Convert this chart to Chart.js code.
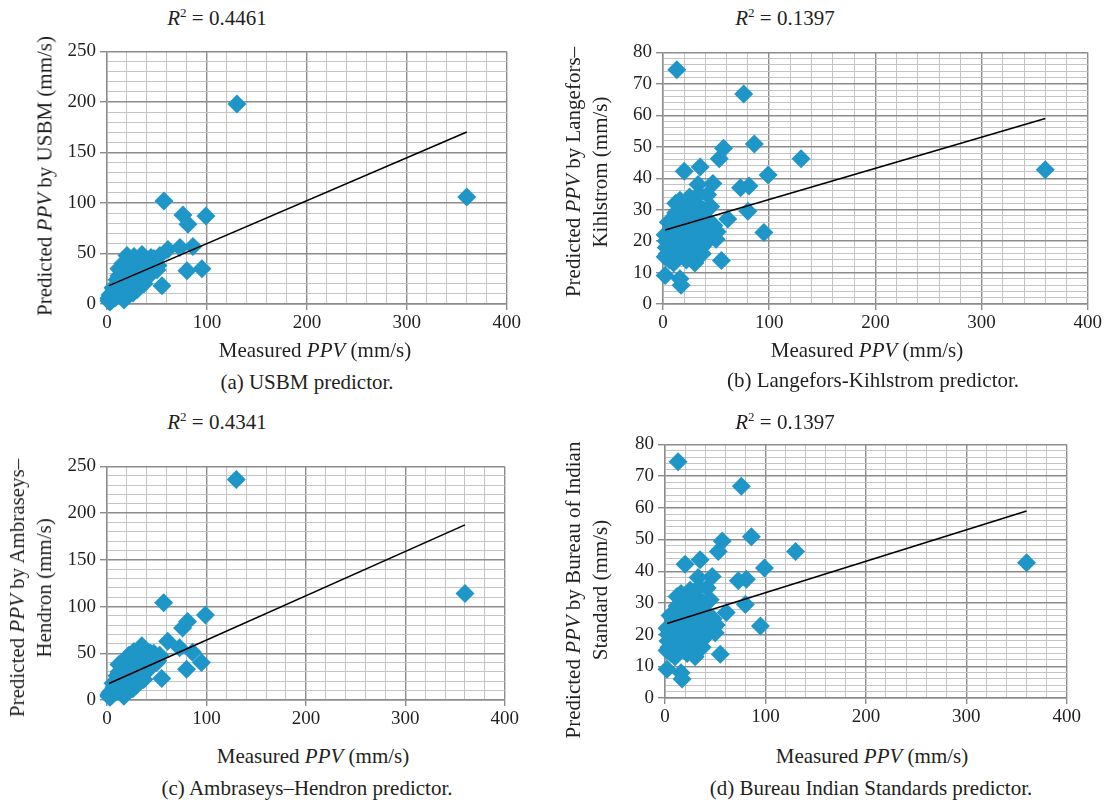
<!DOCTYPE html>
<html><head><meta charset="utf-8">
<script src="https://cdn.jsdelivr.net/npm/chart.js@4.4.1/dist/chart.umd.min.js"></script>
<style>
body{margin:0;background:#fff;width:1104px;height:802px;position:relative;overflow:hidden;font-family:'Liberation Serif','Times New Roman',serif;color:#231f20}
canvas{position:absolute}
.t{position:absolute;white-space:nowrap;font-size:21px;transform:translate(-50%,-50%);line-height:1}
.yt{position:absolute;white-space:nowrap;font-size:21px;text-align:center;line-height:27px;transform:translate(-50%,-50%) rotate(-90deg)}
sup{font-size:13px;vertical-align:0;position:relative;top:-8px}
</style></head><body>
<canvas id="ca"></canvas><canvas id="cb"></canvas><canvas id="cc"></canvas><canvas id="cd"></canvas>

<div class="t" style="left:217px;top:18px"><i>R</i><sup>2</sup> = 0.4461</div>
<div class="t" style="left:785px;top:18px"><i>R</i><sup>2</sup> = 0.1397</div>
<div class="t" style="left:217px;top:422px"><i>R</i><sup>2</sup> = 0.4341</div>
<div class="t" style="left:785px;top:422px"><i>R</i><sup>2</sup> = 0.1397</div>

<div class="t" style="left:315px;top:350px">Measured <i>PPV</i> (mm/s)</div>
<div class="t" style="left:867px;top:350px">Measured <i>PPV</i> (mm/s)</div>
<div class="t" style="left:313px;top:756px">Measured <i>PPV</i> (mm/s)</div>
<div class="t" style="left:872px;top:756px">Measured <i>PPV</i> (mm/s)</div>

<div class="t" style="left:307px;top:382px">(a) USBM predictor.</div>
<div class="t" style="left:873px;top:380px">(b) Langefors-Kihlstrom predictor.</div>
<div class="t" style="left:307px;top:788px">(c) Ambraseys–Hendron predictor.</div>
<div class="t" style="left:871px;top:788px">(d) Bureau Indian Standards predictor.</div>

<div class="yt" style="left:45px;top:176px">Predicted <i>PPV</i> by USBM (mm/s)</div>
<div class="yt" style="left:587px;top:172px">Predicted <i>PPV</i> by Langefors–<br>Kihlstrom (mm/s)</div>
<div class="yt" style="left:31px;top:588px">Predicted <i>PPV</i> by Ambraseys–<br>Hendron (mm/s)</div>
<div class="yt" style="left:587px;top:590px">Predicted <i>PPV</i> by Bureau of Indian<br>Standard (mm/s)</div>

<script>
// ---- data ----
const measuredPPV = [130,360,57,76,81,99,61,73,86,80,95,55,13,53,47,35,20,2,16,17,50,51,42,33,
  2,2,3,3,4,5,5,6,7,8,8,9,10,10,11,12,12,13,14,15,15,16,17,18,19,20,21,22,22,23,24,25,26,27,28,29,30,31,32,33,34,36,37,38,40,41,43,45,
  44,48,39,27,12,6];
const predUSBM = [198,106,102,88,79,87,54,56,57,33,35,18,36,48,45,49,48,5,8,4,34,38,30,42,
  6,3,9,2,7,11,4,8,14,6,12,18,9,24,15,28,11,20,33,14,25,40,19,30,12,38,22,45,17,33,26,41,11,36,22,44,14,30,38,25,46,32,20,40,35,43,29,38,
  46,40,26,47,35,16];
const predLK = [46.2,42.7,49.5,66.8,37.5,41,27,37,50.9,29.5,22.7,13.8,74.5,46.2,38.3,43.6,42.2,9.1,8,6,20.6,23,34.7,38,
  22,15,20,18,16,26,21,14,19,25,17,22,13,27,20,32,15,24,18,28,21,33,16,25,19,31,23,30,14,27,21,34,17,24,29,20,13,32,22,26,35,18,16,30,27,24,21,31,
  26,25,19,33,29,23];
const predAH = [236,114,104,77,84,91,63,56,51,33,40,23,38,48,50,58,45,5,10,4,40,42,35,48,
  6,4,8,3,7,10,5,9,14,8,12,19,10,26,16,30,12,22,38,15,28,40,22,33,13,42,25,48,18,36,30,44,12,38,26,48,16,35,42,30,52,36,22,46,40,47,34,44,
  50,45,30,52,38,18];
const predBIS = [46.2,42.7,49.5,66.8,37.5,41,27,37,50.9,29.5,22.7,13.8,74.5,46.2,38.3,43.6,42.2,9.1,8,6,20.6,23,34.7,38,
  22,15,20,18,16,26,21,14,19,25,17,22,13,27,20,32,15,24,18,28,21,33,16,25,19,31,23,30,14,27,21,34,17,24,29,20,13,32,22,26,35,18,16,30,27,24,21,31,
  26,25,19,33,29,23];
const trendX = [2, 360];
const trendUSBM = [18.2, 170.2];
const trendLK = [23.5, 59];
const trendAH = [17.6, 187.4];
const trendBIS = [23.5, 59];
const xTickLabels = [0, 100, 200, 300, 400];
const yTickLabelsA = [0, 50, 100, 150, 200, 250];
const yTickLabelsB = [0, 10, 20, 30, 40, 50, 60, 70, 80];

const MARK = '#1f96c8';
const MAJOR = '#8c8c8c', MINOR = '#c4c4c4';
const YW = 55, XH = 34, PT = 12, PR = 16;

function pts(xs, ys){ return xs.map((x,i)=>({x:x, y:ys[i]})); }

function makeChart(id, geo, ys, trendY, yLabels, yStep){
  const cv = document.getElementById(id);
  const w = (geo.R-geo.L)+YW+PR, h = (geo.B-geo.T)+PT+XH;
  cv.width = w; cv.height = h;
  cv.style.left = (geo.L-YW)+'px'; cv.style.top = (geo.T-PT)+'px';
  cv.style.width = w+'px'; cv.style.height = h+'px';
  const xMajor = xTickLabels[1]-xTickLabels[0];
  const yMajor = yLabels[1]-yLabels[0];
  const isMaj = (v,m)=> Math.abs(v/m - Math.round(v/m)) < 1e-6;
  new Chart(cv, {
    type:'scatter',
    data:{datasets:[
      {type:'line', data: pts(trendX, trendY), borderColor:'#000', borderWidth:1.6, pointRadius:0, fill:false, tension:0},
      {data: pts(measuredPPV, ys), pointStyle:'rectRot', pointRadius:9.5, pointHoverRadius:9.5,
       backgroundColor:MARK, borderColor:MARK, borderWidth:0, clip:false}
    ]},
    options:{
      responsive:false, animation:false, devicePixelRatio:1,
      layout:{padding:{top:PT,right:PR,left:0,bottom:0}},
      plugins:{legend:{display:false}, tooltip:{enabled:false}},
      scales:{
        x:{type:'linear', min:xTickLabels[0], max:xTickLabels[xTickLabels.length-1],
           afterFit:s=>{s.height=XH;},
           ticks:{stepSize:20, autoSkip:false, maxRotation:0, padding:2, color:'#231f20',
             font:{family:"'Liberation Serif', serif", size:19},
             callback:v=> isMaj(v,xMajor) ? String(v) : ''},
           grid:{color:c=> isMaj(c.tick.value,xMajor)?MAJOR:MINOR,
                 lineWidth:c=> isMaj(c.tick.value,xMajor)?1.4:1,
                 tickColor:c=> isMaj(c.tick.value,xMajor)?MAJOR:'rgba(0,0,0,0)', tickLength:6},
           border:{color:MAJOR, width:1.4}},
        y:{type:'linear', min:yLabels[0], max:yLabels[yLabels.length-1],
           afterFit:s=>{s.width=YW;},
           ticks:{stepSize:yStep, autoSkip:false, padding:4, color:'#231f20',
             font:{family:"'Liberation Serif', serif", size:19},
             callback:v=> isMaj(v,yMajor) ? String(v) : ''},
           grid:{color:c=> isMaj(c.tick.value,yMajor)?MAJOR:MINOR,
                 lineWidth:c=> isMaj(c.tick.value,yMajor)?1.4:1,
                 tickColor:c=> isMaj(c.tick.value,yMajor)?MAJOR:'rgba(0,0,0,0)', tickLength:7},
           border:{color:MAJOR, width:1.4}}
      }
    }
  });
}

makeChart('ca', {L:107,R:507,T:48,B:304}, predUSBM, trendUSBM, yTickLabelsA, 10);
makeChart('cb', {L:663,R:1088,T:49,B:304}, predLK, trendLK, yTickLabelsB, 2);
makeChart('cc', {L:107,R:505,T:463,B:700}, predAH, trendAH, yTickLabelsA, 10);
makeChart('cd', {L:665,R:1067,T:441,B:698}, predBIS, trendBIS, yTickLabelsB, 2);
</script>
</body></html>
